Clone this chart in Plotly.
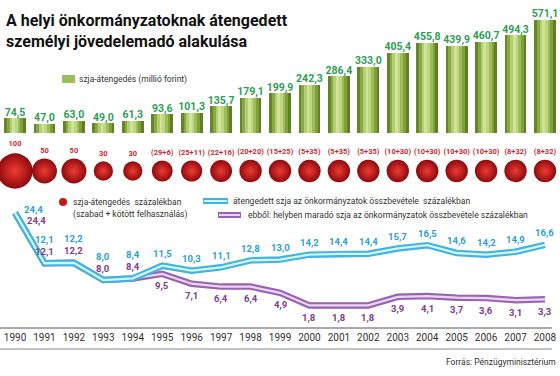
import plotly.graph_objects as go

# ---------------- data ----------------
years = list(range(1990, 2009))
szja_millio = [74.5, 47.0, 63.0, 49.0, 61.3, 93.6, 101.3, 135.7, 179.1, 199.9,
               242.3, 286.4, 333.0, 405.4, 455.8, 439.9, 460.7, 494.3, 571.1]
szabad = [100, 50, 50, 30, 30, 29, 25, 22, 20, 15, 5, 5, 5, 10, 10, 10, 10, 8, 8]
kotott = [0, 0, 0, 0, 0, 6, 11, 16, 20, 25, 35, 35, 35, 30, 30, 30, 30, 32, 32]
atengedett_pct = [24.4, 12.1, 12.2, 8.0, 8.4, 11.5, 10.3, 11.1, 12.8, 13.0,
                  14.2, 14.4, 14.4, 15.7, 16.5, 14.6, 14.2, 14.9, 16.6]
helyben_pct = [24.4, 12.1, 12.2, 8.0, 8.4, 9.5, 7.1, 6.4, 6.4, 4.9,
               1.8, 1.8, 1.8, 3.9, 4.1, 3.7, 3.6, 3.1, 3.3]
year_labels = [str(y) for y in years]

W, H = 560, 376
FONT = "Roboto, Liberation Sans, sans-serif"


def px(x):
    return x / W


def py(y):
    return 1 - y / H


def hu(v):
    return f"{v:.1f}".replace(".", ",")


fig = go.Figure()

# ---------------- bars (striped to imitate cylinder shading) ----------------
stripe_colors = ['#66862a', '#88a944', '#b3cf74', '#cfe39b', '#bdd680',
                 '#9dbd58', '#80a03c', '#5f7f22']
BW = 0.74
n = len(stripe_colors)
sw = BW / n
for k, c in enumerate(stripe_colors):
    fig.add_trace(go.Bar(
        x=years, y=szja_millio, yaxis='y',
        width=sw * (1.25 if k < n - 1 else 1.0),
        offset=-BW / 2 + k * sw,
        marker=dict(color=c, line=dict(width=0)),
        showlegend=False, hoverinfo='skip'))

fig.add_trace(go.Scatter(
    x=years, y=szja_millio, yaxis='y', mode='text',
    text=[hu(v) for v in szja_millio], textposition='top center',
    textfont=dict(family=FONT, size=10.5, color='#2f9d55', weight='bold'),
    showlegend=False, hoverinfo='skip'))

# ---------------- circles ----------------
totals = [a + b for a, b in zip(szabad, kotott)]
circ_text = [str(a) if b == 0 else f"({a}+{b})" for a, b in zip(szabad, kotott)]
fig.add_trace(go.Scatter(
    x=years, y=[0] * len(years), yaxis='y2', mode='markers+text',
    marker=dict(size=totals, sizemode='area', sizeref=0.16, opacity=1,
                color='#8e0a0e',
                gradient=dict(type='radial', color='#ee3b33'),
                line=dict(width=0)),
    text=circ_text, textposition='top center',
    textfont=dict(family=FONT, size=7.5, color='#c62a2f', weight='bold'),
    showlegend=False, hoverinfo='skip'))

# ---------------- lines ----------------
for vals, outer, inner in [(helyben_pct, '#9a62b3', '#ead6f1'),
                           (atengedett_pct, '#3db5de', '#d6f2fb')]:
    fig.add_trace(go.Scatter(x=years, y=vals, yaxis='y3', mode='lines',
                             line=dict(color=outer, width=6.5),
                             showlegend=False, hoverinfo='skip'))
    fig.add_trace(go.Scatter(x=years, y=vals, yaxis='y3', mode='lines',
                             line=dict(color=inner, width=2.3),
                             showlegend=False, hoverinfo='skip'))

annotations = []
lab_font_c = dict(family=FONT, size=9.5, color='#2a9fd6', weight='bold')
lab_font_p = dict(family=FONT, size=9.5, color='#7e3b91', weight='bold')
for i, (yr, c, p) in enumerate(zip(years, atengedett_pct, helyben_pct)):
    if i == 0:
        cs, cx, ps, pxs = 3, 18, -8, 21
    elif yr <= 1994:
        cs, cx, ps, pxs = 24, 0, 12, 0
    else:
        cs, cx, ps, pxs = 12, 0, -12, 0
    annotations.append(dict(x=yr, y=c, xref='x', yref='y3', text=hu(c),
                            showarrow=False, yshift=cs, xshift=cx,
                            font=lab_font_c))
    annotations.append(dict(x=yr, y=p, xref='x', yref='y3', text=hu(p),
                            showarrow=False, yshift=ps, xshift=pxs,
                            font=lab_font_p))

# ---------------- title / legends / source ----------------
title_font = dict(family=FONT, size=16, color='#111111', weight='bold')
annotations += [
    dict(x=px(4), y=py(20), xref='paper', yref='paper', xanchor='left',
         yanchor='middle', text='A helyi önkormányzatoknak átengedett',
         showarrow=False, font=title_font),
    dict(x=px(4), y=py(41), xref='paper', yref='paper', xanchor='left',
         yanchor='middle', text='személyi jövedelemadó alakulása',
         showarrow=False, font=title_font),
]
leg_font = dict(family=FONT, size=8.5, color='#333333')
annotations += [
    dict(x=px(77), y=py(79), xref='paper', yref='paper', xanchor='left',
         yanchor='middle', text='szja-átengedés (millió forint)',
         showarrow=False, font=leg_font),
    dict(x=px(71), y=py(202), xref='paper', yref='paper', xanchor='left',
         yanchor='middle', text='szja-átengedés  százalékban',
         showarrow=False, font=leg_font),
    dict(x=px(71), y=py(214), xref='paper', yref='paper', xanchor='left',
         yanchor='middle', text='(szabad + kötött felhasználás)',
         showarrow=False, font=leg_font),
    dict(x=px(231), y=py(201), xref='paper', yref='paper', xanchor='left',
         yanchor='middle',
         text='átengedett szja az önkormányzatok összbevétele  százalékban',
         showarrow=False, font=leg_font),
    dict(x=px(246), y=py(215), xref='paper', yref='paper', xanchor='left',
         yanchor='middle',
         text='ebből: helyben maradó szja az önkormányzatok összbevétele százalékban',
         showarrow=False, font=leg_font),
    dict(x=px(558), y=py(362), xref='paper', yref='paper', xanchor='right',
         yanchor='middle', text='Forrás: Pénzügyminisztérium',
         showarrow=False, font=dict(family=FONT, size=8.5, color='#333333')),
]

shapes = [
    # bar legend icon
    dict(type='rect', xref='paper', yref='paper', x0=px(62), x1=px(75),
         y0=py(83), y1=py(75), fillcolor='#9dbd58', line=dict(width=0)),
    # circle legend icon
    dict(type='circle', xref='paper', yref='paper', x0=px(59), x1=px(67),
         y0=py(206), y1=py(198), fillcolor='#c8161d', line=dict(width=0)),
    # cyan legend icon
    dict(type='line', xref='paper', yref='paper', x0=px(203), x1=px(228),
         y0=py(201), y1=py(201), line=dict(color='#3db5de', width=6)),
    dict(type='line', xref='paper', yref='paper', x0=px(204), x1=px(227),
         y0=py(201), y1=py(201), line=dict(color='#d6f2fb', width=2)),
    # purple legend icon
    dict(type='line', xref='paper', yref='paper', x0=px(218), x1=px(241),
         y0=py(215), y1=py(215), line=dict(color='#9a62b3', width=6)),
    dict(type='line', xref='paper', yref='paper', x0=px(219), x1=px(240),
         y0=py(215), y1=py(215), line=dict(color='#ead6f1', width=2)),
    # year band lines
    dict(type='line', xref='paper', yref='paper', x0=0, x1=px(552),
         y0=py(328), y1=py(328), line=dict(color='#8c8c8c', width=1.5)),
    dict(type='line', xref='paper', yref='paper', x0=0, x1=px(552),
         y0=py(349), y1=py(349), line=dict(color='#b0b0b0', width=1.5)),
]

fig.update_layout(
    width=W, height=H, autosize=False,
    margin=dict(l=0, r=0, t=0, b=0),
    paper_bgcolor='white', plot_bgcolor='white',
    barmode='overlay', bargap=0,
    showlegend=False,
    xaxis=dict(range=[1989.49, 2008.51], domain=[0, 1], anchor='free',
               position=py(330), tickvals=years, ticktext=year_labels,
               ticks='', showline=False, showgrid=False, zeroline=False,
               tickfont=dict(family=FONT, size=10, color='#333333')),
    yaxis=dict(range=[-1228, 672], domain=[0, 1], visible=False),
    yaxis2=dict(range=[-205, 171], domain=[0, 1], overlaying='y',
                visible=False),
    yaxis3=dict(range=[-15.4, 76.3], domain=[0, 1], overlaying='y',
                visible=False),
    annotations=annotations,
    shapes=shapes,
)

fig.write_html(
    "out.html",
    config={'displayModeBar': False},
    post_script="document.body.style.margin='0px';"
                "document.body.style.padding='0px';"
                "document.documentElement.style.overflow='hidden';")
